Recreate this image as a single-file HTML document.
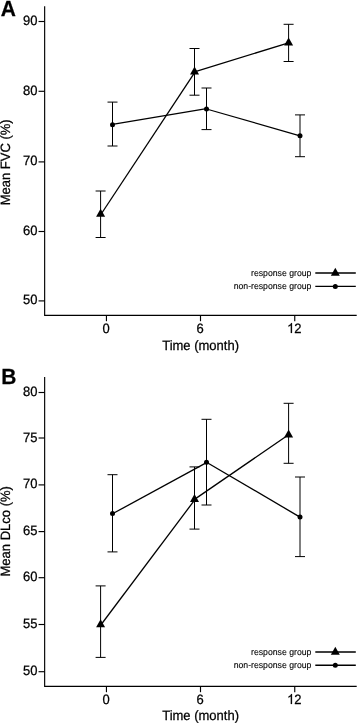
<!DOCTYPE html>
<html><head><meta charset="utf-8"><style>
html,body{margin:0;padding:0;background:#fff;}
svg{display:block;will-change:transform;font-family:"Liberation Sans",sans-serif;}
text{text-rendering:geometricPrecision;fill:#000;stroke:#000;stroke-width:0.25px;}
</style></head><body>
<svg width="358" height="724" viewBox="0 0 358 724">
<rect width="358" height="724" fill="#fff"/>
<g stroke="#000" stroke-width="1.15" fill="none">
<path d="M44.65 6.2V315.4H356.7"/>
<path d="M38.55 21.5H44.65"/>
<path d="M38.55 91.3H44.65"/>
<path d="M38.55 161.9H44.65"/>
<path d="M38.55 231.5H44.65"/>
<path d="M38.55 300.9H44.65"/>
<path d="M106.45 315.4V321.2"/>
<path d="M200.5 315.4V321.2"/>
<path d="M294.75 315.4V321.2"/>
</g>
<g stroke="#000" stroke-width="1" fill="none">
<path stroke-width="1.3" d="M101.20 214.00L195.10 71.90"/>
<path stroke-width="1.3" d="M194.50 71.90L288.55 42.90"/>
<path stroke-width="1.3" d="M112.50 124.40L206.50 108.70"/>
<path stroke-width="1.3" d="M206.50 109.00L300.00 135.80"/>
<path d="M100.6 191.0V237.5M95.6 191.0H105.6M95.6 237.5H105.6"/>
<path d="M194.5 48.5V95.2M189.5 48.5H199.5M189.5 95.2H199.5"/>
<path d="M288.6 24.3V61.5M283.6 24.3H293.6M283.6 61.5H293.6"/>
<path d="M112.5 102.1V146.0M107.5 102.1H117.5M107.5 146.0H117.5"/>
<path d="M206.5 88.0V129.6M201.5 88.0H211.5M201.5 129.6H211.5"/>
<path d="M300.0 114.9V156.7M295.0 114.9H305.0M295.0 156.7H305.0"/>
<path stroke-width="1.3" d="M315.3 273.0H355.8M315.3 286.4H355.8"/>
</g>
<polygon points="100.6,208.7 96.1,216.7 105.1,216.7" fill="#000"/>
<polygon points="194.5,66.6 190.0,74.6 199.0,74.6" fill="#000"/>
<polygon points="288.6,37.6 284.1,45.6 293.1,45.6" fill="#000"/>
<circle cx="112.5" cy="124.7" r="2.5" fill="#000"/>
<circle cx="206.5" cy="109.0" r="2.5" fill="#000"/>
<circle cx="300.0" cy="135.8" r="2.5" fill="#000"/>
<polygon points="335.3,267.7 330.8,275.7 339.8,275.7" fill="#000"/>
<circle cx="335.3" cy="286.4" r="2.5" fill="#000"/>
<text transform="translate(37.50,25.00) scale(1,1.04)" text-anchor="end" font-size="13">90</text>
<text transform="translate(37.50,94.80) scale(1,1.04)" text-anchor="end" font-size="13">80</text>
<text transform="translate(37.50,165.40) scale(1,1.04)" text-anchor="end" font-size="13">70</text>
<text transform="translate(37.50,235.00) scale(1,1.04)" text-anchor="end" font-size="13">60</text>
<text transform="translate(37.50,304.40) scale(1,1.04)" text-anchor="end" font-size="13">50</text>
<text transform="translate(106.05,332.90) scale(1,1.04)" text-anchor="middle" font-size="13">0</text>
<text transform="translate(200.10,332.90) scale(1,1.04)" text-anchor="middle" font-size="13">6</text>
<path transform="translate(287.12,332.90) scale(0.006348,-0.006665)" d="M763 0H583V1147Q518 1085 412.5 1023T223 930V1104Q374 1175 487 1276T647 1472H763Z" fill="#000" stroke="#000" stroke-width="40"/>
<text transform="translate(294.35,332.90) scale(1,1.04)" text-anchor="start" font-size="13">2</text>
<text transform="translate(200.60,349.80) scale(1,1.04)" text-anchor="middle" font-size="13">Time (month)</text>
<text transform="translate(10.20,162.30) rotate(-90) scale(1,1.04)" text-anchor="middle" font-size="13">Mean FVC (%)</text>
<text transform="translate(311.40,276.10) scale(1,1.04)" text-anchor="end" font-size="8.7" style="stroke-width:0.1px">response group</text>
<text transform="translate(311.40,289.10) scale(1,1.04)" text-anchor="end" font-size="8.7" style="stroke-width:0.1px">non-response group</text>
<text transform="translate(0.80,15.80) scale(1,1.04)" text-anchor="start" font-size="21" font-weight="bold">A</text>
<g stroke="#000" stroke-width="1.15" fill="none">
<path d="M44.65 377.1V686.4H356.7"/>
<path d="M38.55 392.5H44.65"/>
<path d="M38.55 438.0H44.65"/>
<path d="M38.55 484.9H44.65"/>
<path d="M38.55 531.6H44.65"/>
<path d="M38.55 577.7H44.65"/>
<path d="M38.55 624.5H44.65"/>
<path d="M38.55 671.7H44.65"/>
<path d="M106.45 686.4V692.2"/>
<path d="M200.5 686.4V692.2"/>
<path d="M294.75 686.4V692.2"/>
</g>
<g stroke="#000" stroke-width="1" fill="none">
<path stroke-width="1.3" d="M101.20 624.50L195.10 499.40"/>
<path stroke-width="1.3" d="M194.50 499.40L288.55 434.80"/>
<path stroke-width="1.3" d="M112.50 513.80L206.50 462.60"/>
<path stroke-width="1.3" d="M206.50 462.20L300.00 517.10"/>
<path d="M100.6 585.9V657.4M95.6 585.9H105.6M95.6 657.4H105.6"/>
<path d="M194.5 466.9V529.1M189.5 466.9H199.5M189.5 529.1H199.5"/>
<path d="M288.6 403.3V463.3M283.6 403.3H293.6M283.6 463.3H293.6"/>
<path d="M112.5 474.7V551.9M107.5 474.7H117.5M107.5 551.9H117.5"/>
<path d="M206.5 419.3V505.0M201.5 419.3H211.5M201.5 505.0H211.5"/>
<path d="M300.0 477.0V556.6M295.0 477.0H305.0M295.0 556.6H305.0"/>
<path stroke-width="1.3" d="M315.3 652.0H355.8M315.3 665.25H355.8"/>
</g>
<polygon points="100.6,619.2 96.1,627.2 105.1,627.2" fill="#000"/>
<polygon points="194.5,494.1 190.0,502.1 199.0,502.1" fill="#000"/>
<polygon points="288.6,429.5 284.1,437.5 293.1,437.5" fill="#000"/>
<circle cx="112.5" cy="513.4" r="2.5" fill="#000"/>
<circle cx="206.5" cy="462.2" r="2.5" fill="#000"/>
<circle cx="300.0" cy="517.1" r="2.5" fill="#000"/>
<polygon points="335.3,646.7 330.8,654.7 339.8,654.7" fill="#000"/>
<circle cx="335.3" cy="665.2" r="2.5" fill="#000"/>
<text transform="translate(37.50,396.00) scale(1,1.04)" text-anchor="end" font-size="13">80</text>
<text transform="translate(37.50,441.50) scale(1,1.04)" text-anchor="end" font-size="13">75</text>
<text transform="translate(37.50,488.40) scale(1,1.04)" text-anchor="end" font-size="13">70</text>
<text transform="translate(37.50,535.10) scale(1,1.04)" text-anchor="end" font-size="13">65</text>
<text transform="translate(37.50,581.20) scale(1,1.04)" text-anchor="end" font-size="13">60</text>
<text transform="translate(37.50,628.00) scale(1,1.04)" text-anchor="end" font-size="13">55</text>
<text transform="translate(37.50,675.20) scale(1,1.04)" text-anchor="end" font-size="13">50</text>
<text transform="translate(106.05,703.90) scale(1,1.04)" text-anchor="middle" font-size="13">0</text>
<text transform="translate(200.10,703.90) scale(1,1.04)" text-anchor="middle" font-size="13">6</text>
<path transform="translate(287.12,703.90) scale(0.006348,-0.006665)" d="M763 0H583V1147Q518 1085 412.5 1023T223 930V1104Q374 1175 487 1276T647 1472H763Z" fill="#000" stroke="#000" stroke-width="40"/>
<text transform="translate(294.35,703.90) scale(1,1.04)" text-anchor="start" font-size="13">2</text>
<text transform="translate(200.60,720.10) scale(1,1.04)" text-anchor="middle" font-size="13">Time (month)</text>
<text transform="translate(10.20,531.30) rotate(-90) scale(1,1.04)" text-anchor="middle" font-size="13">Mean DLco (%)</text>
<text transform="translate(311.40,655.10) scale(1,1.04)" text-anchor="end" font-size="8.7" style="stroke-width:0.1px">response group</text>
<text transform="translate(311.40,667.95) scale(1,1.04)" text-anchor="end" font-size="8.7" style="stroke-width:0.1px">non-response group</text>
<text transform="translate(1.20,384.10) scale(1,1.04)" text-anchor="start" font-size="21" font-weight="bold">B</text>
</svg>
</body></html>
